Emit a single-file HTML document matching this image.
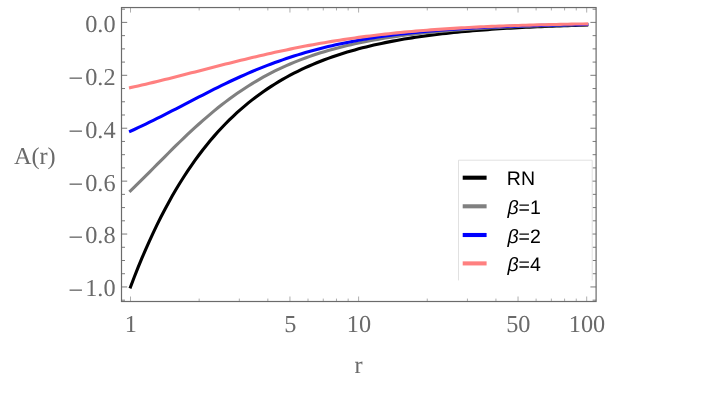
<!DOCTYPE html><html><head><meta charset="utf-8"><title>plot</title><style>html,body{margin:0;padding:0;background:#fff}svg{display:block}text{font-family:"Liberation Serif",serif}.s{font-family:"Liberation Sans",sans-serif}</style></head><body>
<svg style="will-change:transform" width="714" height="397" viewBox="0 0 714 397">
<rect width="714" height="397" fill="#fff"/>
<g fill="none" stroke-width="3.1" stroke-linejoin="round" stroke-linecap="square">
<path d="M130.50,286.95L134.30,276.99L138.10,267.40L141.91,258.18L145.71,249.30L149.51,240.76L153.31,232.54L157.11,224.63L160.91,217.01L164.72,209.69L168.52,202.64L172.32,195.85L176.12,189.32L179.92,183.04L183.72,176.99L187.53,171.17L191.33,165.57L195.13,160.18L198.93,154.99L202.73,150.00L206.53,145.19L210.34,140.57L214.14,136.12L217.94,131.84L221.74,127.72L225.54,123.75L229.34,119.94L233.14,116.27L236.95,112.73L240.75,109.33L244.55,106.06L248.35,102.91L252.15,99.88L255.96,96.96L259.76,94.15L263.56,91.45L267.36,88.85L271.16,86.35L274.96,83.94L278.76,81.63L282.57,79.40L286.37,77.25L290.17,75.18L293.97,73.20L297.77,71.28L301.58,69.44L305.38,67.67L309.18,65.97L312.98,64.33L316.78,62.75L320.58,61.23L324.38,59.77L328.19,58.36L331.99,57.01L335.79,55.70L339.59,54.45L343.39,53.24L347.20,52.08L351.00,50.97L354.80,49.89L358.60,48.86L362.40,47.86L366.20,46.90L370.00,45.98L373.81,45.09L377.61,44.24L381.41,43.41L385.21,42.62L389.01,41.86L392.81,41.13L396.62,40.42L400.42,39.75L404.22,39.09L408.02,38.46L411.82,37.86L415.62,37.28L419.43,36.72L423.23,36.18L427.03,35.66L430.83,35.16L434.63,34.68L438.44,34.22L442.24,33.77L446.04,33.34L449.84,32.93L453.64,32.54L457.44,32.15L461.25,31.79L465.05,31.43L468.85,31.09L472.65,30.77L476.45,30.45L480.25,30.15L484.06,29.86L487.86,29.58L491.66,29.31L495.46,29.05L499.26,28.80L503.06,28.55L506.87,28.32L510.67,28.10L514.47,27.88L518.27,27.68L522.07,27.48L525.87,27.29L529.68,27.10L533.48,26.93L537.28,26.76L541.08,26.59L544.88,26.43L548.68,26.28L552.49,26.14L556.29,26.00L560.09,25.86L563.89,25.73L567.69,25.61L571.49,25.48L575.30,25.37L579.10,25.26L582.90,25.15L586.70,25.05" stroke="#000"/>
<path d="M130.50,190.78L134.30,187.13L138.10,183.44L141.91,179.69L145.71,175.91L149.51,172.10L153.31,168.28L157.11,164.45L160.91,160.62L164.72,156.80L168.52,152.99L172.32,149.22L176.12,145.47L179.92,141.76L183.72,138.10L187.53,134.48L191.33,130.92L195.13,127.42L198.93,123.98L202.73,120.60L206.53,117.30L210.34,114.06L214.14,110.90L217.94,107.82L221.74,104.81L225.54,101.88L229.34,99.03L233.15,96.26L236.95,93.57L240.75,90.96L244.55,88.43L248.35,85.97L252.15,83.60L255.96,81.31L259.76,79.09L263.56,76.95L267.36,74.89L271.16,72.89L274.96,70.98L278.76,69.13L282.57,67.35L286.37,65.63L290.17,63.99L293.97,62.40L297.77,60.87L301.58,59.40L305.38,57.99L309.18,56.63L312.98,55.32L316.78,54.06L320.58,52.85L324.38,51.68L328.19,50.56L331.99,49.48L335.79,48.45L339.59,47.45L343.39,46.49L347.20,45.57L351.00,44.68L354.80,43.83L358.60,43.01L362.40,42.22L366.20,41.46L370.00,40.73L373.81,40.03L377.61,39.36L381.41,38.71L385.21,38.09L389.01,37.49L392.82,36.92L396.62,36.36L400.42,35.83L404.22,35.32L408.02,34.83L411.82,34.36L415.63,33.91L419.43,33.47L423.23,33.05L427.03,32.65L430.83,32.26L434.63,31.89L438.44,31.54L442.24,31.19L446.04,30.86L449.84,30.54L453.64,30.24L457.44,29.95L461.25,29.67L465.05,29.40L468.85,29.14L472.65,28.89L476.45,28.65L480.25,28.41L484.06,28.19L487.86,27.98L491.66,27.77L495.46,27.58L499.26,27.39L503.06,27.21L506.87,27.03L510.67,26.86L514.47,26.70L518.27,26.55L522.07,26.40L525.87,26.25L529.68,26.11L533.48,25.98L537.28,25.85L541.08,25.73L544.88,25.61L548.68,25.50L552.49,25.39L556.29,25.29L560.09,25.18L563.89,25.09L567.69,24.99L571.49,24.90L575.30,24.82L579.10,24.73L582.90,24.65L586.70,24.58" stroke="#808080"/>
<path d="M130.50,131.27L134.30,129.51L138.10,127.72L141.91,125.91L145.71,124.08L149.51,122.23L153.31,120.35L157.11,118.46L160.91,116.55L164.72,114.63L168.52,112.69L172.32,110.74L176.12,108.79L179.92,106.82L183.72,104.85L187.53,102.88L191.33,100.91L195.13,98.93L198.93,96.97L202.73,95.01L206.53,93.06L210.34,91.12L214.14,89.21L217.94,87.31L221.74,85.44L225.54,83.59L229.34,81.77L233.15,79.98L236.95,78.22L240.75,76.49L244.55,74.80L248.35,73.14L252.15,71.51L255.96,69.93L259.76,68.37L263.56,66.86L267.36,65.38L271.16,63.94L274.96,62.54L278.76,61.17L282.57,59.84L286.37,58.54L290.17,57.29L293.97,56.06L297.77,54.87L301.58,53.72L305.38,52.60L309.18,51.52L312.98,50.47L316.78,49.45L320.58,48.46L324.38,47.51L328.19,46.58L331.99,45.69L335.79,44.83L339.59,43.99L343.39,43.19L347.20,42.41L351.00,41.66L354.80,40.93L358.60,40.23L362.40,39.56L366.20,38.91L370.00,38.28L373.81,37.68L377.61,37.09L381.41,36.53L385.21,36.00L389.01,35.48L392.82,34.98L396.62,34.50L400.42,34.03L404.22,33.59L408.02,33.16L411.82,32.75L415.63,32.36L419.43,31.98L423.23,31.61L427.03,31.26L430.83,30.93L434.63,30.61L438.44,30.30L442.24,30.00L446.04,29.71L449.84,29.44L453.64,29.18L457.44,28.93L461.25,28.68L465.05,28.45L468.85,28.23L472.65,28.02L476.45,27.81L480.25,27.62L484.06,27.43L487.86,27.25L491.66,27.07L495.46,26.91L499.26,26.75L503.06,26.60L506.87,26.45L510.67,26.31L514.47,26.18L518.27,26.05L522.07,25.93L525.87,25.81L529.68,25.70L533.48,25.59L537.28,25.48L541.08,25.38L544.88,25.29L548.68,25.20L552.49,25.11L556.29,25.03L560.09,24.95L563.89,24.87L567.69,24.80L571.49,24.73L575.30,24.66L579.10,24.59L582.90,24.53L586.70,24.47" stroke="#0000ff"/>
<path d="M130.50,87.58L134.30,86.75L138.10,85.91L141.91,85.05L145.71,84.17L149.51,83.28L153.31,82.38L157.11,81.46L160.91,80.54L164.72,79.60L168.52,78.66L172.32,77.70L176.12,76.75L179.92,75.78L183.72,74.81L187.53,73.84L191.33,72.87L195.13,71.89L198.93,70.91L202.73,69.94L206.53,68.96L210.34,67.98L214.14,67.01L217.94,66.04L221.74,65.08L225.54,64.12L229.34,63.16L233.15,62.21L236.95,61.27L240.75,60.34L244.55,59.41L248.35,58.50L252.15,57.59L255.96,56.69L259.76,55.80L263.56,54.92L267.36,54.06L271.16,53.20L274.96,52.36L278.76,51.53L282.57,50.72L286.37,49.91L290.17,49.12L293.97,48.35L297.77,47.58L301.58,46.84L305.38,46.10L309.18,45.39L312.98,44.68L316.78,44.00L320.58,43.32L324.38,42.66L328.19,42.02L331.99,41.39L335.79,40.78L339.59,40.18L343.39,39.60L347.20,39.03L351.00,38.47L354.80,37.94L358.60,37.41L362.40,36.90L366.20,36.40L370.00,35.92L373.81,35.45L377.61,34.99L381.41,34.55L385.21,34.12L389.01,33.71L392.82,33.30L396.62,32.91L400.42,32.53L404.22,32.16L408.02,31.81L411.82,31.46L415.63,31.13L419.43,30.81L423.23,30.50L427.03,30.19L430.83,29.90L434.63,29.62L438.44,29.35L442.24,29.09L446.04,28.83L449.84,28.59L453.64,28.35L457.44,28.13L461.25,27.91L465.05,27.69L468.85,27.49L472.65,27.29L476.45,27.10L480.25,26.92L484.06,26.75L487.86,26.58L491.66,26.42L495.46,26.26L499.26,26.11L503.06,25.96L506.87,25.82L510.67,25.69L514.47,25.56L518.27,25.44L522.07,25.32L525.87,25.20L529.68,25.09L533.48,24.99L537.28,24.88L541.08,24.79L544.88,24.69L548.68,24.60L552.49,24.52L556.29,24.43L560.09,24.35L563.89,24.28L567.69,24.20L571.49,24.13L575.30,24.07L579.10,24.00L582.90,23.94L586.70,23.88" stroke="#ff8080"/>
</g>
<rect x="121.5" y="7.55" width="474.6" height="293.95" fill="none" stroke="#6b6b6b" stroke-width="1.2"/>
<path d="M121.5,300.18h3.5M596.1,300.18h-3.5M121.5,286.95h5.7M596.1,286.95h-5.7M121.5,273.72h3.5M596.1,273.72h-3.5M121.5,260.50h3.5M596.1,260.50h-3.5M121.5,247.27h3.5M596.1,247.27h-3.5M121.5,234.04h5.7M596.1,234.04h-5.7M121.5,220.81h3.5M596.1,220.81h-3.5M121.5,207.59h3.5M596.1,207.59h-3.5M121.5,194.36h3.5M596.1,194.36h-3.5M121.5,181.13h5.7M596.1,181.13h-5.7M121.5,167.90h3.5M596.1,167.90h-3.5M121.5,154.68h3.5M596.1,154.68h-3.5M121.5,141.45h3.5M596.1,141.45h-3.5M121.5,128.22h5.7M596.1,128.22h-5.7M121.5,114.99h3.5M596.1,114.99h-3.5M121.5,101.77h3.5M596.1,101.77h-3.5M121.5,88.54h3.5M596.1,88.54h-3.5M121.5,75.31h5.7M596.1,75.31h-5.7M121.5,62.08h3.5M596.1,62.08h-3.5M121.5,48.86h3.5M596.1,48.86h-3.5M121.5,35.63h3.5M596.1,35.63h-3.5M121.5,22.40h5.7M596.1,22.40h-5.7M121.5,9.17h3.5M596.1,9.17h-3.5" stroke="#6b6b6b" stroke-width="0.9" fill="none"/>
<path d="M130.50,301.5v-5.0M130.50,7.55v5.0M199.16,301.5v-2.9M199.16,7.55v2.9M239.33,301.5v-2.9M239.33,7.55v2.9M267.83,301.5v-2.9M267.83,7.55v2.9M289.94,301.5v-5.0M289.94,7.55v5.0M308.00,301.5v-2.9M308.00,7.55v2.9M323.27,301.5v-2.9M323.27,7.55v2.9M336.49,301.5v-2.9M336.49,7.55v2.9M348.16,301.5v-2.9M348.16,7.55v2.9M358.60,301.5v-5.0M358.60,7.55v5.0M427.26,301.5v-2.9M427.26,7.55v2.9M467.43,301.5v-2.9M467.43,7.55v2.9M495.93,301.5v-2.9M495.93,7.55v2.9M518.04,301.5v-5.0M518.04,7.55v5.0M536.10,301.5v-2.9M536.10,7.55v2.9M551.37,301.5v-2.9M551.37,7.55v2.9M564.59,301.5v-2.9M564.59,7.55v2.9M576.26,301.5v-2.9M576.26,7.55v2.9M586.70,301.5v-5.0M586.70,7.55v5.0" stroke="#6b6b6b" stroke-width="0.55" fill="none"/>
<rect x="458.5" y="160.2" width="133.70000000000005" height="120.19999999999999" fill="#fff" stroke="none"/>
<path d="M458.5,280.4V160.2H592.2V280.4" fill="none" stroke="#d9d9d9" stroke-width="0.8"/>
<path d="M462.7,177.7H486.6" stroke="#000" stroke-width="4.1" fill="none"/>
<path d="M462.7,206.3H486.6" stroke="#808080" stroke-width="4.1" fill="none"/>
<path d="M462.7,235.0H486.6" stroke="#0000ff" stroke-width="4.1" fill="none"/>
<path d="M462.7,263.4H486.6" stroke="#ff8080" stroke-width="4.1" fill="none"/>
<g style="filter:grayscale(1)" text-rendering="geometricPrecision">
<text id="yl0" x="115.6" y="31.80" font-size="24.3" fill="#6a6a6a" text-anchor="end">0.0</text>
<text id="yl1" x="115.6" y="84.71" font-size="24.3" fill="#6a6a6a" text-anchor="end">0.2</text>
<text id="ym1" x="68.3" y="87.31" font-size="26.6" fill="#6a6a6a">−</text>
<text id="yl2" x="115.6" y="137.62" font-size="24.3" fill="#6a6a6a" text-anchor="end">0.4</text>
<text id="ym2" x="68.3" y="140.22" font-size="26.6" fill="#6a6a6a">−</text>
<text id="yl3" x="115.6" y="190.53" font-size="24.3" fill="#6a6a6a" text-anchor="end">0.6</text>
<text id="ym3" x="68.3" y="193.13" font-size="26.6" fill="#6a6a6a">−</text>
<text id="yl4" x="115.6" y="243.44" font-size="24.3" fill="#6a6a6a" text-anchor="end">0.8</text>
<text id="ym4" x="68.3" y="246.04" font-size="26.6" fill="#6a6a6a">−</text>
<text id="yl5" x="115.6" y="296.35" font-size="24.3" fill="#6a6a6a" text-anchor="end">1.0</text>
<text id="ym5" x="68.3" y="298.95" font-size="26.6" fill="#6a6a6a">−</text>
<text id="xl1" x="130.80" y="331.5" font-size="24.3" fill="#6a6a6a" text-anchor="middle">1</text>
<text id="xl5" x="290.24" y="331.5" font-size="24.3" fill="#6a6a6a" text-anchor="middle">5</text>
<text id="xl10" x="358.90" y="331.5" font-size="24.3" fill="#6a6a6a" text-anchor="middle">10</text>
<text id="xl50" x="518.34" y="331.5" font-size="24.3" fill="#6a6a6a" text-anchor="middle">50</text>
<text id="xl100" x="587.00" y="331.5" font-size="24.3" fill="#6a6a6a" text-anchor="middle">100</text>
<text id="xr" x="358.6" y="373.0" font-size="24.3" fill="#6a6a6a" text-anchor="middle">r</text>
<text id="ya" x="13.9" y="163.8" font-size="24.3" fill="#6a6a6a">A(r)</text>
<text id="lg0" class="s" x="506.8" y="185.20" font-size="19.5" fill="#000">RN</text>
<text id="lg1" class="s" x="507.4" y="213.80" font-size="19.5" fill="#000"><tspan font-style="italic">β</tspan>=1</text>
<text id="lg2" class="s" x="507.4" y="242.50" font-size="19.5" fill="#000"><tspan font-style="italic">β</tspan>=2</text>
<text id="lg3" class="s" x="507.4" y="270.90" font-size="19.5" fill="#000"><tspan font-style="italic">β</tspan>=4</text>
</g>
</svg></body></html>
